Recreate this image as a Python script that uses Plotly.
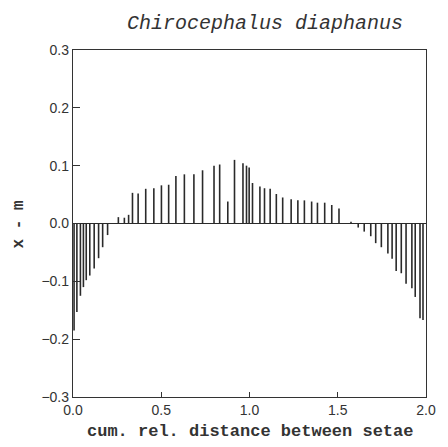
import plotly.graph_objects as go

# cumulative relative distance between setae (x) and deviation x - m (y)
dist = [0.006, 0.022, 0.042, 0.059, 0.075, 0.095, 0.120, 0.145, 0.168, 0.196,
        0.257, 0.291, 0.315, 0.337, 0.369, 0.412, 0.458, 0.501, 0.542, 0.583,
        0.631, 0.685, 0.734, 0.799, 0.831, 0.877, 0.915, 0.963, 0.983, 0.998,
        1.017, 1.059, 1.085, 1.117, 1.152, 1.188, 1.236, 1.274, 1.311, 1.352,
        1.385, 1.426, 1.466, 1.507, 1.575,
        1.616, 1.650, 1.687, 1.715, 1.747, 1.784, 1.808, 1.831, 1.860, 1.887,
        1.920, 1.939, 1.966, 1.983]
dev = [-0.185, -0.153, -0.125, -0.110, -0.098, -0.090, -0.078, -0.060, -0.041, -0.020,
       0.011, 0.010, 0.015, 0.053, 0.052, 0.060, 0.061, 0.066, 0.067, 0.082,
       0.085, 0.085, 0.092, 0.100, 0.102, 0.038, 0.110, 0.104, 0.100, 0.097,
       0.070, 0.064, 0.061, 0.060, 0.051, 0.045, 0.042, 0.040, 0.040, 0.038,
       0.036, 0.036, 0.032, 0.026, 0.003,
       -0.007, -0.014, -0.022, -0.034, -0.041, -0.052, -0.061, -0.082, -0.086, -0.104,
       -0.112, -0.127, -0.164, -0.167]

x_ticks = [0.0, 0.5, 1.0, 1.5, 2.0]
x_tick_labels = ["0.0", "0.5", "1.0", "1.5", "2.0"]
y_ticks = [-0.3, -0.2, -0.1, 0.0, 0.1, 0.2, 0.3]
y_tick_labels = ["\u22120.3", "\u22120.2", "\u22120.1", "0.0", "0.1", "0.2", "0.3"]

sx, sy = [], []
for xv, yv in zip(dist, dev):
    sx += [xv, xv, None]
    sy += [0, yv, None]

fig = go.Figure()
fig.add_trace(go.Scatter(x=sx, y=sy, mode="lines",
                         line=dict(color="#2a2a2a", width=1.6),
                         hoverinfo="skip", showlegend=False))

axis_common = dict(showgrid=False, showline=True, linecolor="#333333", linewidth=1.3,
                   mirror=True, ticks="inside", tickcolor="#333333", tickwidth=1.2,
                   tickfont=dict(family="Liberation Sans, Arial, sans-serif", size=14,
                                 color="#333333"))

fig.update_xaxes(range=[0, 2], tickvals=x_ticks, ticktext=x_tick_labels, ticklen=5,
                 zeroline=False, **axis_common)
fig.update_yaxes(range=[-0.3, 0.3], tickvals=y_ticks, ticktext=y_tick_labels, ticklen=7,
                 zeroline=True, zerolinecolor="#2a2a2a", zerolinewidth=1.3,
                 **axis_common)

fig.update_layout(
    width=440, height=439,
    margin=dict(l=65, r=17, t=42, b=50),
    paper_bgcolor="white", plot_bgcolor="white",
    title=dict(text="<i>Chirocephalus diaphanus</i>", x=0.584, xanchor="center",
               y=0.985, yanchor="top",
               font=dict(family="Liberation Mono, Courier New, monospace", size=20,
                         color="#333333")),
    annotations=[
        dict(text="<b>cum. rel. distance between setae</b>", xref="paper", yref="paper",
             x=0.5, y=-0.098, xanchor="center", yanchor="middle", showarrow=False,
             font=dict(family="Liberation Mono, Courier New, monospace", size=17,
                       color="#333333")),
        dict(text="<b>x - m</b>", xref="paper", yref="paper", x=-0.154, y=0.496,
             xanchor="center", yanchor="middle", textangle=-90, showarrow=False,
             font=dict(family="Liberation Mono, Courier New, monospace", size=16,
                       color="#333333")),
    ],
)

fig.write_html("out.html")
